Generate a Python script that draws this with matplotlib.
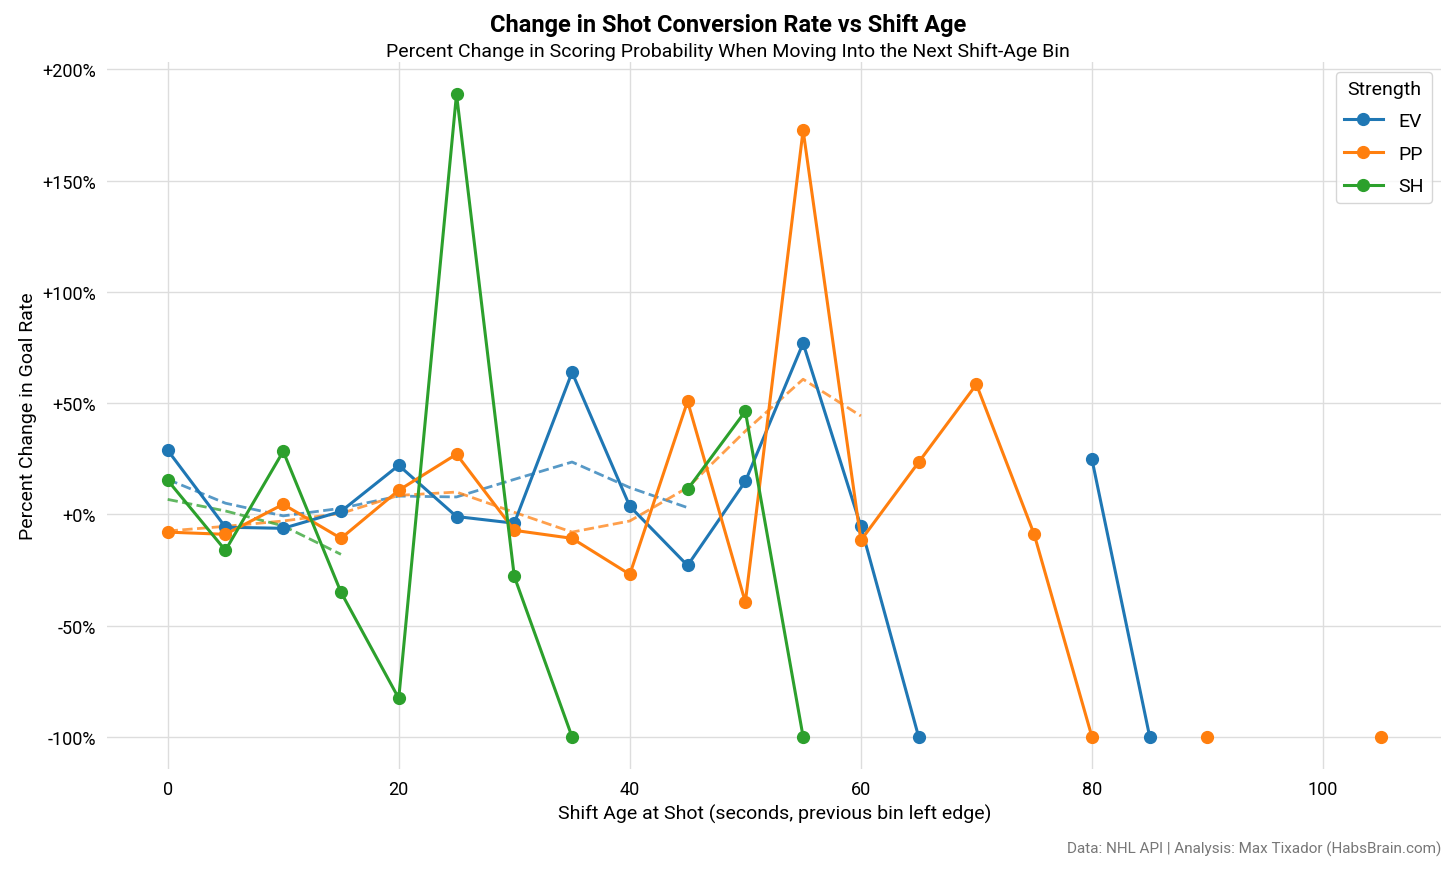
import matplotlib.pyplot as plt
import numpy as np
from matplotlib.ticker import FuncFormatter

plt.rcParams['font.family'] = ['Roboto', 'DejaVu Sans']

# shift age bins (seconds, previous bin left edge)
shift_age = [0, 5, 10, 15, 20, 25, 30, 35, 40, 45, 50, 55, 60, 65, 70, 75, 80, 85, 90, 95, 100, 105]
nan = np.nan

# percent change in goal rate
ev_change = [28.8, -5.8, -6.3, 1.3, 22, -1, -4, 63.8, 3.6, -23, 14.8, 76.9, -5.4, -100,
             nan, nan, 24.7, -100, nan, nan, nan, nan]
pp_change = [-8, -9, 4.5, -10.8, 10.8, 27, -7.2, -10.8, -27, 50.8, -39.5, 172.6, -11.7, 23.4,
             58.4, -9, -100, nan, -100, nan, nan, -100]
sh_change = [15.3, -16.2, 28.3, -35, -82.7, 188.8, -27.9, -100, nan, 11.2, 46.3, -100,
             nan, nan, nan, nan, nan, nan, nan, nan, nan, nan]

# smoothed trend (dashed)
ev_trend_x = [0, 5, 10, 15, 20, 25, 30, 35, 40, 45]
ev_trend = [15.7, 5, -0.7, 2.7, 8.2, 7.8, 15.7, 23.5, 12, 3]
pp_trend_x = [0, 5, 10, 15, 20, 25, 30, 35, 40, 45, 50, 55, 60]
pp_trend = [-7.5, -5.4, -3, 0.4, 8.5, 10, 0.9, -8, -3, 12, 37.4, 60.7, 44.2]
sh_trend_x = [0, 5, 10, 15]
sh_trend = [6.7, 1.5, -5.2, -18]

colors = {"EV": "#1f77b4", "PP": "#ff7f0e", "SH": "#2ca02c"}

fig = plt.figure(figsize=(14.56, 8.7), dpi=100)
ax = fig.add_axes([0.0735, 0.115, 0.9165, 0.8125])

for name, vals in [("EV", ev_change), ("PP", pp_change), ("SH", sh_change)]:
    ax.plot(shift_age, vals, marker="o", color=colors[name], linewidth=2.2,
            markersize=8.5, label=name, zorder=3)

ax.plot(ev_trend_x, ev_trend, linestyle="--", color=colors["EV"], alpha=0.75, linewidth=2, zorder=2)
ax.plot(pp_trend_x, pp_trend, linestyle="--", color=colors["PP"], alpha=0.75, linewidth=2, zorder=2)
ax.plot(sh_trend_x, sh_trend, linestyle="--", color=colors["SH"], alpha=0.75, linewidth=2, zorder=2)

ax.yaxis.set_major_formatter(FuncFormatter(lambda v, p: f"{v:+.0f}%"))
ax.set_yticks([-100, -50, 0, 50, 100, 150, 200])
ax.set_xticks([0, 20, 40, 60, 80, 100])
ax.grid(True, color="#dddddd", linewidth=1)
ax.set_axisbelow(True)
for s in ax.spines.values():
    s.set_visible(False)
ax.tick_params(length=0, labelsize=13, pad=8)

ax.set_xlabel("Shift Age at Shot (seconds, previous bin left edge)", fontsize=14)
ax.set_ylabel("Percent Change in Goal Rate", fontsize=14)

fig.text(0.5, 0.963, "Change in Shot Conversion Rate vs Shift Age", ha="center",
         fontsize=17, fontweight="bold")
fig.text(0.5, 0.935, "Percent Change in Scoring Probability When Moving Into the Next Shift-Age Bin",
         ha="center", fontsize=14)
fig.text(0.99, 0.019, "Data: NHL API | Analysis: Max Tixador (HabsBrain.com)", ha="right",
         fontsize=11, color="#777777")

leg = ax.legend(title="Strength", loc="upper right", fontsize=14, title_fontsize=14,
                frameon=True, edgecolor="#cccccc", labelspacing=0.75)

fig.savefig("out.png", dpi=100)
